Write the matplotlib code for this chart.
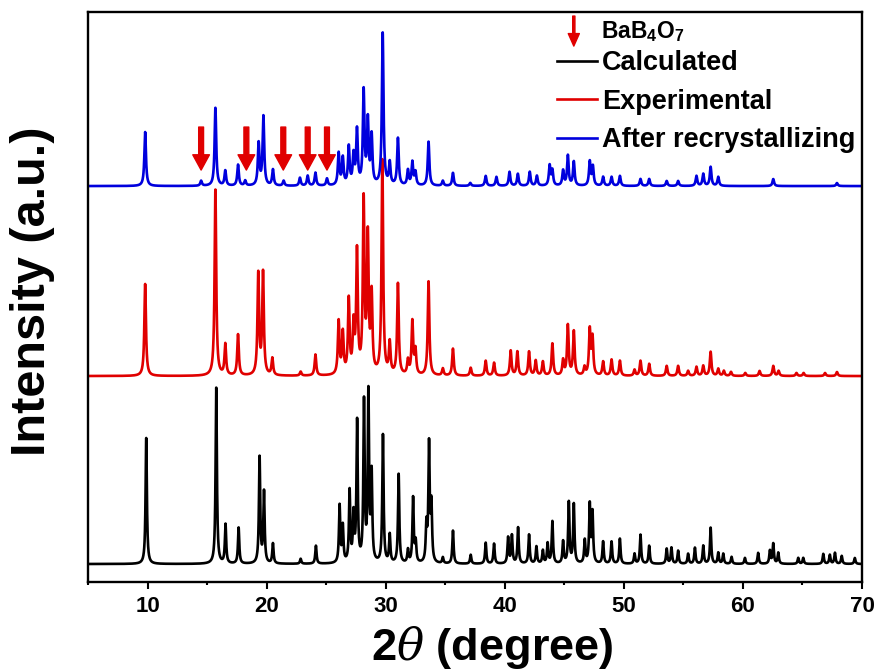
import numpy as np
import matplotlib
matplotlib.use("Agg")
import matplotlib.pyplot as plt
from matplotlib.ticker import MultipleLocator

plt.rcParams['font.family'] = ['Liberation Sans', 'DejaVu Sans']
plt.rcParams['font.weight'] = 'bold'
plt.rcParams['mathtext.fontset'] = 'custom'
plt.rcParams['mathtext.it'] = 'DejaVu Serif:italic:weight=normal'
plt.rcParams['mathtext.default'] = 'regular'

# ---------------- data ----------------
calc_pos = [9.89, 15.77, 16.55, 17.65, 19.41, 19.78, 20.53, 22.86, 24.14, 26.13, 26.40, 26.97,
            27.30, 27.60, 28.18, 28.55, 28.82, 29.77, 30.34, 31.09, 31.87, 32.30, 32.52, 33.42,
            33.64, 33.84, 34.80, 35.65, 37.14, 38.40, 39.10, 40.28, 40.60, 41.12, 42.04, 42.66,
            43.20, 43.60, 44.00, 44.90, 45.38, 45.80, 46.72, 47.14, 47.37, 48.26, 48.97, 49.67,
            50.90, 51.40, 52.13, 53.60, 54.00, 54.56, 55.40, 55.97, 56.67, 57.29, 57.93, 58.35,
            59.05, 60.17, 61.28, 62.27, 62.55, 62.97, 64.65, 65.07, 66.75, 67.30, 67.73, 68.30,
            69.40]
calc_int = [126, 176, 39, 36, 106, 71, 20, 5, 18, 57, 36, 71,
            46, 140, 159, 167, 86, 128, 28, 89, 13, 65, 20, 36,
            117, 56, 6, 33, 9, 21, 20, 26, 28, 36, 29, 17,
            13, 20, 42, 22, 61, 59, 23, 58, 50, 22, 22, 25,
            10, 29, 18, 15, 16, 13, 10, 16, 18, 36, 11, 10,
            7, 6, 11, 13, 20, 11, 6, 6, 10, 9, 11, 8,
            6]

exp_pos = [9.80, 15.70, 16.53, 17.60, 19.30, 19.70, 20.48, 22.86, 24.10, 26.05, 26.40, 26.90,
           27.30, 27.59, 28.15, 28.50, 28.82, 29.72, 30.34, 31.03, 31.87, 32.24, 32.50, 33.60,
           34.80, 35.65, 37.14, 38.40, 39.10, 40.50, 41.06, 42.04, 42.60, 43.20, 44.00, 44.90,
           45.30, 45.80, 46.70, 47.14, 47.37, 48.26, 48.97, 49.67, 50.90, 51.40, 52.13, 53.60,
           54.56, 55.40, 56.10, 56.67, 57.29, 57.93, 58.40, 59.00, 60.20, 61.40, 62.55, 63.00,
           64.50, 65.10, 66.90, 67.90]
exp_int = [92, 186, 31, 41, 101, 102, 17, 4, 21, 53, 41, 74,
           47, 121, 171, 134, 77, 214, 31, 91, 14, 53, 24, 94,
           7, 27, 8, 15, 13, 25, 24, 24, 15, 14, 32, 15,
           50, 44, 8, 45, 37, 14, 16, 15, 6, 15, 12, 10,
           10, 5, 9, 10, 24, 7, 5, 4, 3, 5, 10, 5,
           3, 3, 3, 4]

rec_pos = [9.80, 14.50, 15.70, 16.53, 17.60, 18.20, 19.33, 19.73, 20.53, 21.43, 22.80, 23.45,
           24.10, 25.07, 26.05, 26.40, 26.90, 27.30, 27.59, 28.15, 28.50, 28.82, 29.75, 30.34,
           31.03, 31.87, 32.24, 32.50, 33.60, 34.80, 35.65, 37.10, 38.40, 39.30, 40.40, 41.10,
           42.10, 42.70, 43.77, 44.00, 44.90, 45.30, 45.80, 47.14, 47.40, 48.26, 48.97, 49.67,
           51.40, 52.13, 53.60, 54.56, 56.10, 56.67, 57.29, 57.93, 62.55, 67.90]
rec_int = [54, 5, 78, 15, 21, 5, 42, 69, 16, 5, 8, 10,
           13, 7, 32, 27, 38, 29, 54, 93, 63, 48, 152, 22,
           47, 15, 23, 13, 44, 5, 13, 3, 10, 9, 14, 12,
           14, 10, 20, 15, 15, 30, 24, 24, 19, 9, 9, 10,
           7, 7, 5, 5, 10, 12, 19, 9, 7, 3]

offsets = [18, 206, 396]            # vertical offsets of the three traces
widths = [0.13, 0.16, 0.16]         # peak FWHM (degree)
labels = ['Calculated', 'Experimental', 'After recrystallizing']
colors = ['black', '#e00000', '#0000dd']

impurity_pos = [14.5, 18.3, 21.4, 23.45, 25.07]   # BaB4O7 arrows

# ---------------- build the patterns ----------------
two_theta = np.linspace(5, 70, 6501)


def pattern(pos, inten, fwhm):
    y = np.zeros_like(two_theta)
    hw = fwhm / 2.0
    for c, h in zip(pos, inten):
        y += h / (1.0 + ((two_theta - c) / hw) ** 2)
    return y


series = [(calc_pos, calc_int), (exp_pos, exp_int), (rec_pos, rec_int)]

fig = plt.figure(figsize=(8.8, 6.71), dpi=100)
ax = fig.add_axes([0.1, 0.1326, 0.8795, 0.8494])

lines = []
for (p, h), off, w, lab, col in zip(series, offsets, widths, labels, colors):
    ln, = ax.plot(two_theta, pattern(p, h, w) + off, color=col, lw=1.9, label=lab)
    lines.append(ln)

# impurity arrows
for xp in impurity_pos:
    ax.annotate('', xy=(xp, 412), xytext=(xp, 455),
                arrowprops=dict(facecolor='#e00000', edgecolor='#e00000',
                                width=3.5, headwidth=12, headlength=11, shrink=0))

# legend entry for BaB4O7 arrow
ax.annotate('', xy=(45.8, 536), xytext=(45.8, 566),
            arrowprops=dict(facecolor='#e00000', edgecolor='#e00000',
                            width=1.6, headwidth=8, headlength=9, shrink=0))
ax.text(48.1, 551, r'BaB$_4$O$_7$', fontsize=16.5, fontweight='bold', va='center', ha='left')

leg = ax.legend(handles=lines, loc='upper left', bbox_to_anchor=(0.606, 0.933),
                frameon=False, fontsize=19.5, handlelength=1.48, handletextpad=0.19,
                labelspacing=0.46, borderpad=0, borderaxespad=0)
for t in leg.get_texts():
    t.set_fontweight('bold')
for lh in leg.get_lines():
    lh.set_linewidth(1.9)

ax.set_xlim(5, 70)
ax.set_ylim(0, 570)
ax.xaxis.set_major_locator(MultipleLocator(10))
ax.xaxis.set_minor_locator(MultipleLocator(5))
ax.set_yticks([])
ax.tick_params(axis='x', which='major', direction='out', length=5, width=1.5,
               labelsize=16, pad=5)
ax.tick_params(axis='x', which='minor', direction='out', length=2.5, width=1.5)
for lbl in ax.get_xticklabels():
    lbl.set_fontweight('bold')
for sp in ax.spines.values():
    sp.set_linewidth(1.7)

ax.set_xlabel(r'2$\mathit{\theta}$ (degree)', fontsize=32.5, fontweight='bold')
ax.xaxis.set_label_coords(0.522, -0.073)
ax.set_ylabel('Intensity (a.u.)', fontsize=35, fontweight='bold')
ax.yaxis.set_label_coords(-0.042, 0.51)

fig.savefig('out.png', dpi=100)
